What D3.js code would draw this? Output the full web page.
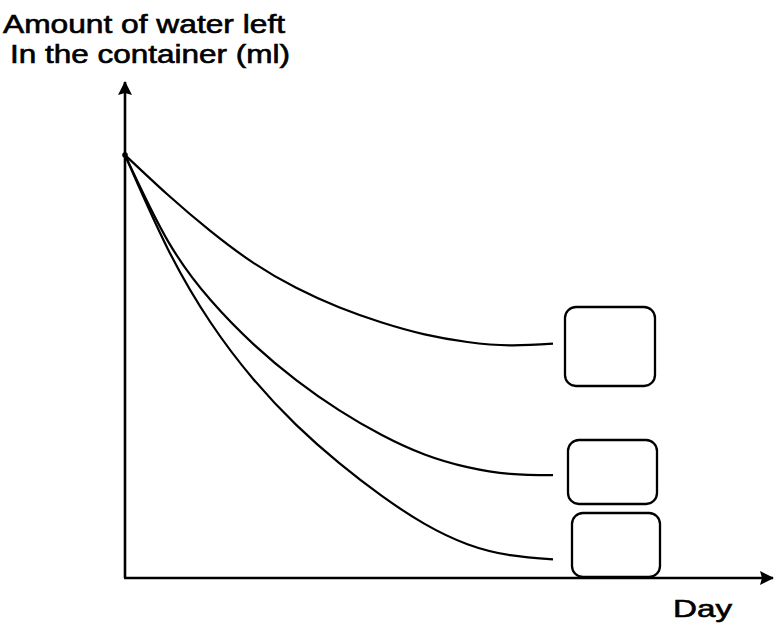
<!DOCTYPE html>
<html>
<head>
<meta charset="utf-8">
<script src="https://cdn.jsdelivr.net/npm/d3@7/dist/d3.min.js"></script>
<style>
  html, body { margin: 0; padding: 0; background: #fff; }
  svg { display: block; }
  text { font-family: "Liberation Sans", Arial, sans-serif; fill: #000; stroke: #000; stroke-width: 0.6px; }
</style>
</head>
<body>
<script>
// Days since the start of the experiment
const days = [0, 1, 2, 3, 4, 5, 6, 7, 8, 9, 10];

// Water left in each container (ml), one series per container
const seriesA = [100, 90.6, 82.0, 74.5, 68.6, 64.0, 60.4, 57.6, 55.8, 55.0, 55.4];
const seriesB = [100, 79.7, 65.7, 55.3, 46.8, 39.7, 33.8, 29.2, 26.2, 24.6, 24.3];
const seriesC = [100, 77.8, 60.4, 47.0, 36.2, 27.2, 19.4, 12.8, 8.0, 5.4, 4.4];

const seriesList = [seriesA, seriesB, seriesC];

// Axis titles
const yTitle = ["Amount of water left", "In the container (ml)"];
const xTitle = "Day";

const W = 774, H = 627;
const svg = d3.select("body").append("svg")
  .attr("width", W).attr("height", H);

// Plot frame
const originX = 125, originY = 578;
const xAxisEnd = 773, yAxisTop = 82;

const x = d3.scaleLinear().domain([0, 10]).range([originX, 553]);
const y = d3.scaleLinear().domain([0, 100]).range([originY, 155]);

// Arrowheads for the axes
const defs = svg.append("defs");
defs.append("marker")
  .attr("id", "arrow")
  .attr("viewBox", "0 0 14 14")
  .attr("refX", 13).attr("refY", 7)
  .attr("markerWidth", 14).attr("markerHeight", 14)
  .attr("markerUnits", "userSpaceOnUse")
  .attr("orient", "auto")
  .append("path")
  .attr("d", "M0,0 L14,7 L0,14 L2,7 Z")
  .attr("fill", "#000");

// y axis
svg.append("line")
  .attr("x1", originX).attr("y1", originY)
  .attr("x2", originX).attr("y2", yAxisTop)
  .attr("stroke", "#000").attr("stroke-width", 2.6)
  .attr("marker-end", "url(#arrow)");

// x axis
svg.append("line")
  .attr("x1", originX - 1).attr("y1", originY)
  .attr("x2", xAxisEnd).attr("y2", originY)
  .attr("stroke", "#000").attr("stroke-width", 2.3)
  .attr("marker-end", "url(#arrow)");

// Curves
const line = d3.line()
  .x((d, i) => x(days[i]))
  .y(d => y(d))
  .curve(d3.curveNatural);

svg.selectAll("path.series")
  .data(seriesList)
  .join("path")
  .attr("class", "series")
  .attr("d", d => line(d))
  .attr("fill", "none")
  .attr("stroke", "#000")
  .attr("stroke-width", 2.2);

// Small blob where the curves meet at day 0
svg.append("circle")
  .attr("cx", x(0)).attr("cy", y(100))
  .attr("r", 2.8).attr("fill", "#000");

// Empty answer boxes at the end of each curve
const boxes = [
  { x: 565, y: 307, w: 90, h: 79 },
  { x: 568, y: 440, w: 89, h: 64 },
  { x: 572, y: 513, w: 88, h: 64 }
];
svg.selectAll("rect.box")
  .data(boxes)
  .join("rect")
  .attr("class", "box")
  .attr("x", d => d.x).attr("y", d => d.y)
  .attr("width", d => d.w).attr("height", d => d.h)
  .attr("rx", 11).attr("ry", 11)
  .attr("fill", "#fff")
  .attr("stroke", "#000")
  .attr("stroke-width", 2.3);

// y-axis title
svg.append("text")
  .attr("x", 3).attr("y", 33)
  .attr("font-size", 25)
  .attr("textLength", 282).attr("lengthAdjust", "spacingAndGlyphs")
  .text(yTitle[0]);
svg.append("text")
  .attr("x", 10).attr("y", 63)
  .attr("font-size", 25)
  .attr("textLength", 280).attr("lengthAdjust", "spacingAndGlyphs")
  .text(yTitle[1]);

// x-axis title
svg.append("text")
  .attr("x", 673).attr("y", 617)
  .attr("font-size", 24)
  .attr("textLength", 59).attr("lengthAdjust", "spacingAndGlyphs")
  .text(xTitle);
</script>
</body>
</html>
